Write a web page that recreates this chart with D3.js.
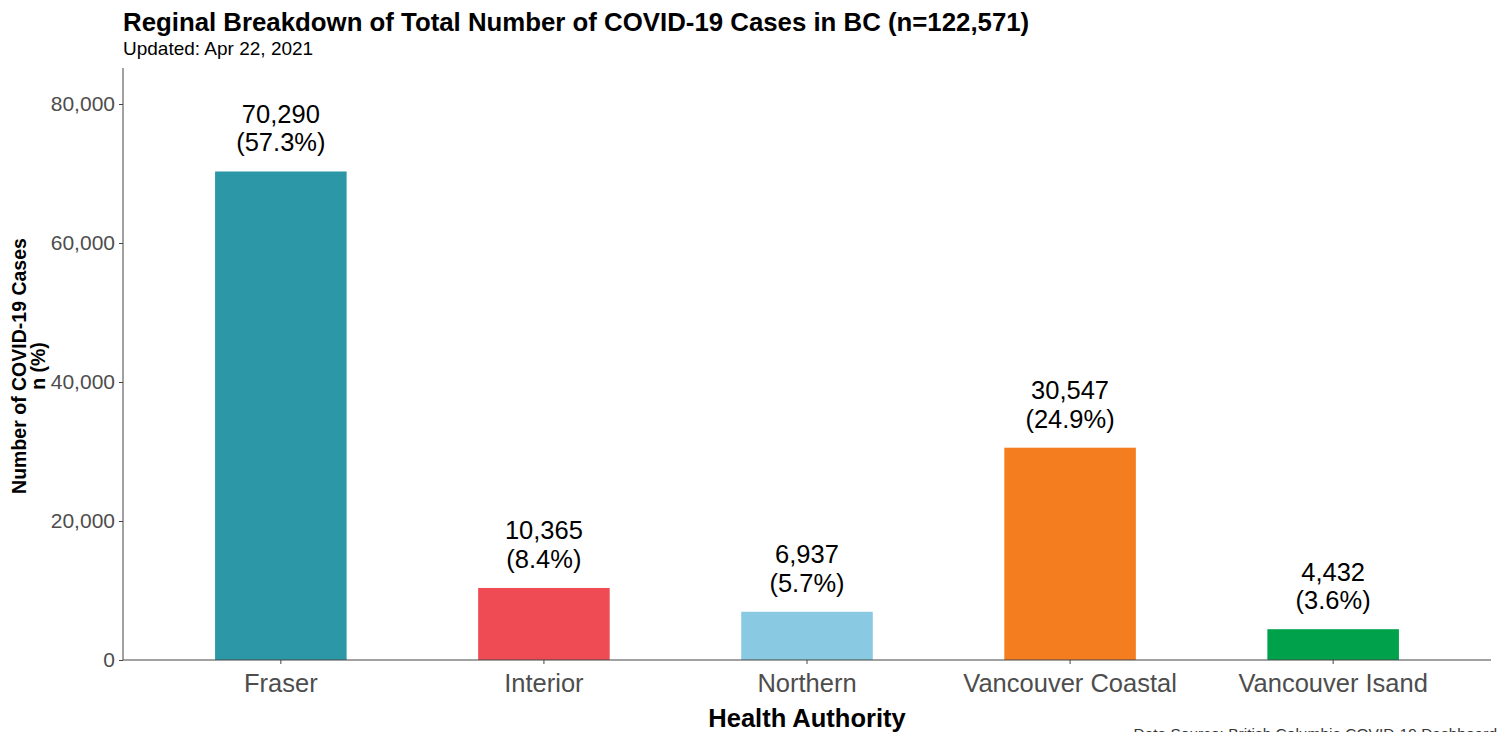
<!DOCTYPE html>
<html><head><meta charset="utf-8">
<script src="https://cdn.jsdelivr.net/npm/d3@7"></script>
<style>
html,body{margin:0;padding:0;background:#fff;overflow:hidden;}
text{font-family:"Liberation Sans",Arial,sans-serif;}
</style></head>
<body>
<svg id="chart" width="1499" height="732"></svg>
<script>
const categories = ["Fraser","Interior","Northern","Vancouver Coastal","Vancouver Isand"];
const cases = [70290, 10365, 6937, 30547, 4432];
const percents = ["57.3%","8.4%","5.7%","24.9%","3.6%"];
const colors = ["#2C97A7","#EF4B55","#8AC9E2","#F47D20","#00A14B"];
const yTicks = [0, 20000, 40000, 60000, 80000];
const titleText = "Reginal Breakdown of Total Number of COVID-19 Cases in BC (n=122,571)";
const subtitleText = "Updated: Apr 22, 2021";
const captionText = "Data Source: British Columbia COVID-19 Dashboard";

(function(){
const svg = d3.select("#chart");
const pL = 123, pR = 1491, pT = 68, pB = 660;
const FF = "Liberation Sans, Arial, sans-serif";

const x = d3.scaleBand().domain(categories).range([pL, pR]).paddingInner(0.5).paddingOuter(0.35);
const y = d3.scaleLinear().domain([0, 85180]).range([pB, pT]);
const fmt = d3.format(",");

svg.append("g").selectAll("rect").data(categories).join("rect")
  .attr("x", d => x(d))
  .attr("width", x.bandwidth())
  .attr("y", (d,i) => y(cases[i]))
  .attr("height", (d,i) => pB - y(cases[i]))
  .attr("fill", (d,i) => colors[i]);

const lab = svg.append("g").selectAll("text").data(categories).join("text")
  .attr("text-anchor","middle")
  .attr("font-size", 25.5)
  .attr("fill","#000");
lab.append("tspan")
  .attr("x", d => x(d) + x.bandwidth()/2)
  .attr("y", (d,i) => y(cases[i]) - 48.5)
  .text((d,i) => fmt(cases[i]));
lab.append("tspan")
  .attr("x", d => x(d) + x.bandwidth()/2)
  .attr("y", (d,i) => y(cases[i]) - 20)
  .text((d,i) => "(" + percents[i] + ")");

const yAxis = svg.append("g").attr("transform", `translate(${pL},0)`)
  .call(d3.axisLeft(y).tickValues(yTicks).tickFormat(fmt).tickSize(4).tickPadding(4).tickSizeOuter(0));
yAxis.select(".domain").attr("stroke","#444").attr("d", `M0,${pT}V${pB}`);
yAxis.selectAll(".tick line").attr("stroke","#444");
yAxis.selectAll(".tick text").attr("font-size",21).attr("fill","#4D4D4D").attr("font-family",FF);

const xAxis = svg.append("g").attr("transform", `translate(0,${pB})`)
  .call(d3.axisBottom(x).tickSize(4).tickPadding(9.5).tickSizeOuter(0));
xAxis.select(".domain").attr("stroke","#444").attr("d", `M${pL},0H${pR}`);
xAxis.selectAll(".tick line").attr("stroke","#444");
xAxis.selectAll(".tick text").attr("font-size",25.5).attr("fill","#4D4D4D").attr("font-family",FF);

svg.append("text").attr("x",(pL+pR)/2).attr("y",727).attr("text-anchor","middle")
  .attr("font-size",25.5).attr("font-weight","bold").attr("fill","#000").text("Health Authority");
const yt = svg.append("text").attr("transform",`translate(0,${(pT+pB)/2 + 2}) rotate(-90)`)
  .attr("text-anchor","middle").attr("font-size",19.5).attr("font-weight","bold").attr("fill","#000");
yt.append("tspan").attr("x",0).attr("y",25.5).text("Number of COVID-19 Cases");
yt.append("tspan").attr("x",0).attr("y",45).text("n (%)");

svg.append("text").attr("x",pL).attr("y",31).attr("font-size",25.8).attr("font-weight","bold").attr("fill","#000").text(titleText);
svg.append("text").attr("x",pL).attr("y",55).attr("font-size",19).attr("fill","#000").text(subtitleText);
svg.append("text").attr("x",1497).attr("y",739).attr("text-anchor","end").attr("font-size",15.5).attr("fill","#333").text(captionText);
})();
</script>
</body></html>
